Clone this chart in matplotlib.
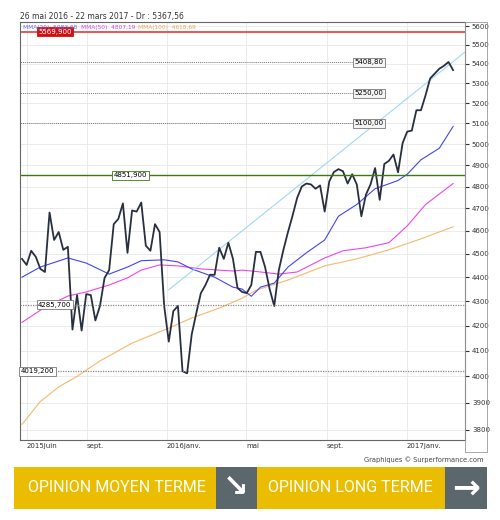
import numpy as np
import pandas as pd
import matplotlib
matplotlib.use("Agg")
import matplotlib.pyplot as plt
from matplotlib.patches import Rectangle

start = pd.Timestamp("2015-05-25")
price = [4478, 4452, 4513, 4487, 4435, 4422, 4682, 4560, 4595, 4517, 4530, 4184, 4325, 4180, 4329,
         4325, 4221, 4280, 4397, 4430, 4630, 4653, 4723, 4504, 4691, 4686, 4727, 4535, 4513, 4630,
         4595, 4280, 4136, 4259, 4280, 4020, 4012, 4164, 4250, 4333, 4367, 4410, 4410, 4526, 4478,
         4548, 4478, 4354, 4338, 4333, 4367, 4508, 4508, 4443, 4350, 4280, 4430, 4517, 4595, 4668,
         4748, 4800, 4814, 4810, 4790, 4805, 4686, 4824, 4867, 4881, 4871, 4814, 4857, 4810, 4665,
         4763, 4810, 4886, 4739, 4905, 4920, 4950, 4866, 5005, 5060, 5065, 5165, 5165, 5240, 5325,
         5350, 5375, 5390, 5410, 5368]
ma20_weeks = [0, 4, 10, 14, 19, 23, 26, 31, 34, 37, 42, 46, 48, 50, 52, 55, 58, 62, 66, 69, 73, 77, 82, 84, 87, 91, 94]
ma20_vals = [4400, 4443, 4482, 4460, 4413, 4443, 4470, 4474, 4465, 4435, 4400, 4358, 4350, 4320, 4358, 4375,
             4443, 4504, 4560, 4665, 4718, 4790, 4828, 4857, 4925, 4980, 5085]
ma50_weeks = [0, 5, 10, 14, 19, 23, 26, 30, 34, 39, 46, 48, 52, 56, 60, 66, 70, 75, 80, 84, 88, 94]
ma50_vals = [4213, 4275, 4321, 4338, 4367, 4397, 4430, 4452, 4448, 4435, 4426, 4430, 4422, 4413, 4422,
             4482, 4513, 4526, 4548, 4622, 4718, 4814]
ma100_weeks = [0, 4, 8, 12, 17, 24, 32, 37, 43, 48, 51, 58, 66, 73, 80, 87, 94]
ma100_vals = [3820, 3905, 3960, 4000, 4060, 4130, 4190, 4231, 4271, 4312, 4345, 4388, 4448, 4478, 4517, 4565, 4618]
trend_weeks = [32, 96.5]
trend_vals = [4347, 5460]
levels_right = [5408.80, 5250.00, 5100.00]
level_labels_right = ["5408,80", "5250,00", "5100,00"]
support_levels = [4285.700, 4019.200]
support_labels = ["4285,700", "4019,200"]
red_level, red_label = 5569.900, "5569,900"
green_level, green_label = 4851.900, "4851,900"
legend_labels = ["MMA(20)  5083,68", "MMA(50)  4807,19", "MMA(100)  4618,69"]
yticks = [3800, 3900, 4000, 4100, 4200, 4300, 4400, 4500, 4600, 4700, 4800, 4900, 5000, 5100, 5200, 5300, 5400, 5500, 5600]
xtick_dates = ["2015-06-01", "2015-09-01", "2016-01-01", "2016-05-01", "2016-09-01", "2017-01-01"]
xtick_labels = ["2015juin", "sept.", "2016janv.", "mai", "sept.", "2017janv."]

def wk(w):
    return [start + pd.Timedelta(weeks=float(x)) for x in w]

dates = wk(range(len(price)))

fig = plt.figure(figsize=(5, 5.2), dpi=100)
ax = fig.add_axes([0.04, 0.1538, 0.89, 0.804])
ax.set_yscale("log")
ax.set_ylim(3763, 5622)
ax.set_xlim(wk([-0.44])[0], wk([96.6])[0])

ax.set_yticks(yticks)
ax.yaxis.set_major_formatter(matplotlib.ticker.FuncFormatter(lambda v, p: f"{int(v)}"))
ax.yaxis.set_minor_locator(matplotlib.ticker.NullLocator())
ax.yaxis.tick_right()
ax.tick_params(axis="y", labelsize=5, colors="#333333", length=3, pad=2)
ax.set_xticks([pd.Timestamp(d) for d in xtick_dates])
ax.set_xticklabels(xtick_labels)
ax.tick_params(axis="x", labelsize=5, colors="#333333", length=0, pad=2)
for lab in ax.get_xticklabels():
    lab.set_horizontalalignment("left")
ax.grid(True, color="#e8e8e8", lw=0.6)
for s in ax.spines.values():
    s.set_color("#666666"); s.set_linewidth(0.8)

ax.plot(wk(ma100_weeks), ma100_vals, color="#f5b869", lw=0.8)
ax.plot(wk(ma50_weeks), ma50_vals, color="#ee44ee", lw=0.8)
ax.plot(wk(ma20_weeks), ma20_vals, color="#4444ee", lw=0.8)
ax.plot(wk(trend_weeks), trend_vals, color="#9fd8f5", lw=0.8)
ax.plot(dates, price, color="#283040", lw=1.3)

ax.axhline(red_level, color="#e23b3b", lw=1.2)
ax.axhline(green_level, color="#3a7a10", lw=1.0)
x_lab = wk([72.5])[0]
for v, l in zip(levels_right, level_labels_right):
    ax.plot([x_lab, ax.get_xlim()[1]], [v, v], color="#777777", lw=0.7, ls=(0, (1, 1)))
    ax.text(x_lab, v, l, fontsize=5, va="center", ha="left",
            bbox=dict(boxstyle="square,pad=0.2", fc="#f4f4f4", ec="#777777", lw=0.6))
for v, l, xw in zip(support_levels, support_labels, [3.5, -0.3]):
    ax.axhline(v, color="#888888", lw=0.9, ls=(0, (1, 1)))
    ax.text(wk([xw])[0], v, l, fontsize=5, va="center", ha="left",
            bbox=dict(boxstyle="square,pad=0.2", fc="white", ec="#777777", lw=0.6))
ax.text(wk([3.5])[0], red_level, red_label, fontsize=5, va="center", ha="left", color="white",
        bbox=dict(boxstyle="square,pad=0.2", fc="#d01010", ec="#d01010", lw=0.6))
ax.text(wk([20])[0], green_level, green_label, fontsize=5, va="center", ha="left",
        bbox=dict(boxstyle="square,pad=0.2", fc="white", ec="#3a7a10", lw=0.6))

for xp, lab, col in zip([23, 81, 138], legend_labels, ["#6666ee", "#dd44dd", "#e8a850"]):
    fig.text(xp/500, 1-27/520, lab, fontsize=4.2, color=col, va="center")

fig.text(20/500, 1-17/520, "26 mai 2016 - 22 mars 2017 - Dr : 5367,56", fontsize=5.5, color="#333333", va="center")
fig.text(484/500, 1-460/520, "Graphiques © Surperformance.com", fontsize=4.8, color="#444444", ha="right", va="center")
fig.add_artist(Rectangle((465/500, 1-452/520), 22/500, 430/520, transform=fig.transFigure,
                         fill=False, ec="#999999", lw=0.6))

# banner
yb, hb = 1-509/520, 42/520
fig.add_artist(Rectangle((14/500, yb), 202/500, hb, transform=fig.transFigure, fc="#ebbd00", ec="none"))
fig.add_artist(Rectangle((216/500, yb), 41/500, hb, transform=fig.transFigure, fc="#5b666d", ec="none"))
fig.add_artist(Rectangle((257/500, yb), 188/500, hb, transform=fig.transFigure, fc="#ebbd00", ec="none"))
fig.add_artist(Rectangle((445/500, yb), 42/500, hb, transform=fig.transFigure, fc="#5b666d", ec="none"))
fig.text(117/500, yb+hb/2, "OPINION MOYEN TERME", fontsize=11.5, color="white", ha="center", va="center",
         family="Roboto")
fig.text(350/500, yb+hb/2, "OPINION LONG TERME", fontsize=11.5, color="white", ha="center", va="center",
         family="Roboto")
fig.text(236/500, yb+hb/2, "↘", fontsize=22, color="white", ha="center", va="center", weight="bold", family="DejaVu Sans")
fig.text(466/500, yb+hb/2, "→", fontsize=24, color="white", ha="center", va="center", weight="bold", family="DejaVu Sans")

fig.savefig("out.png", dpi=100)
